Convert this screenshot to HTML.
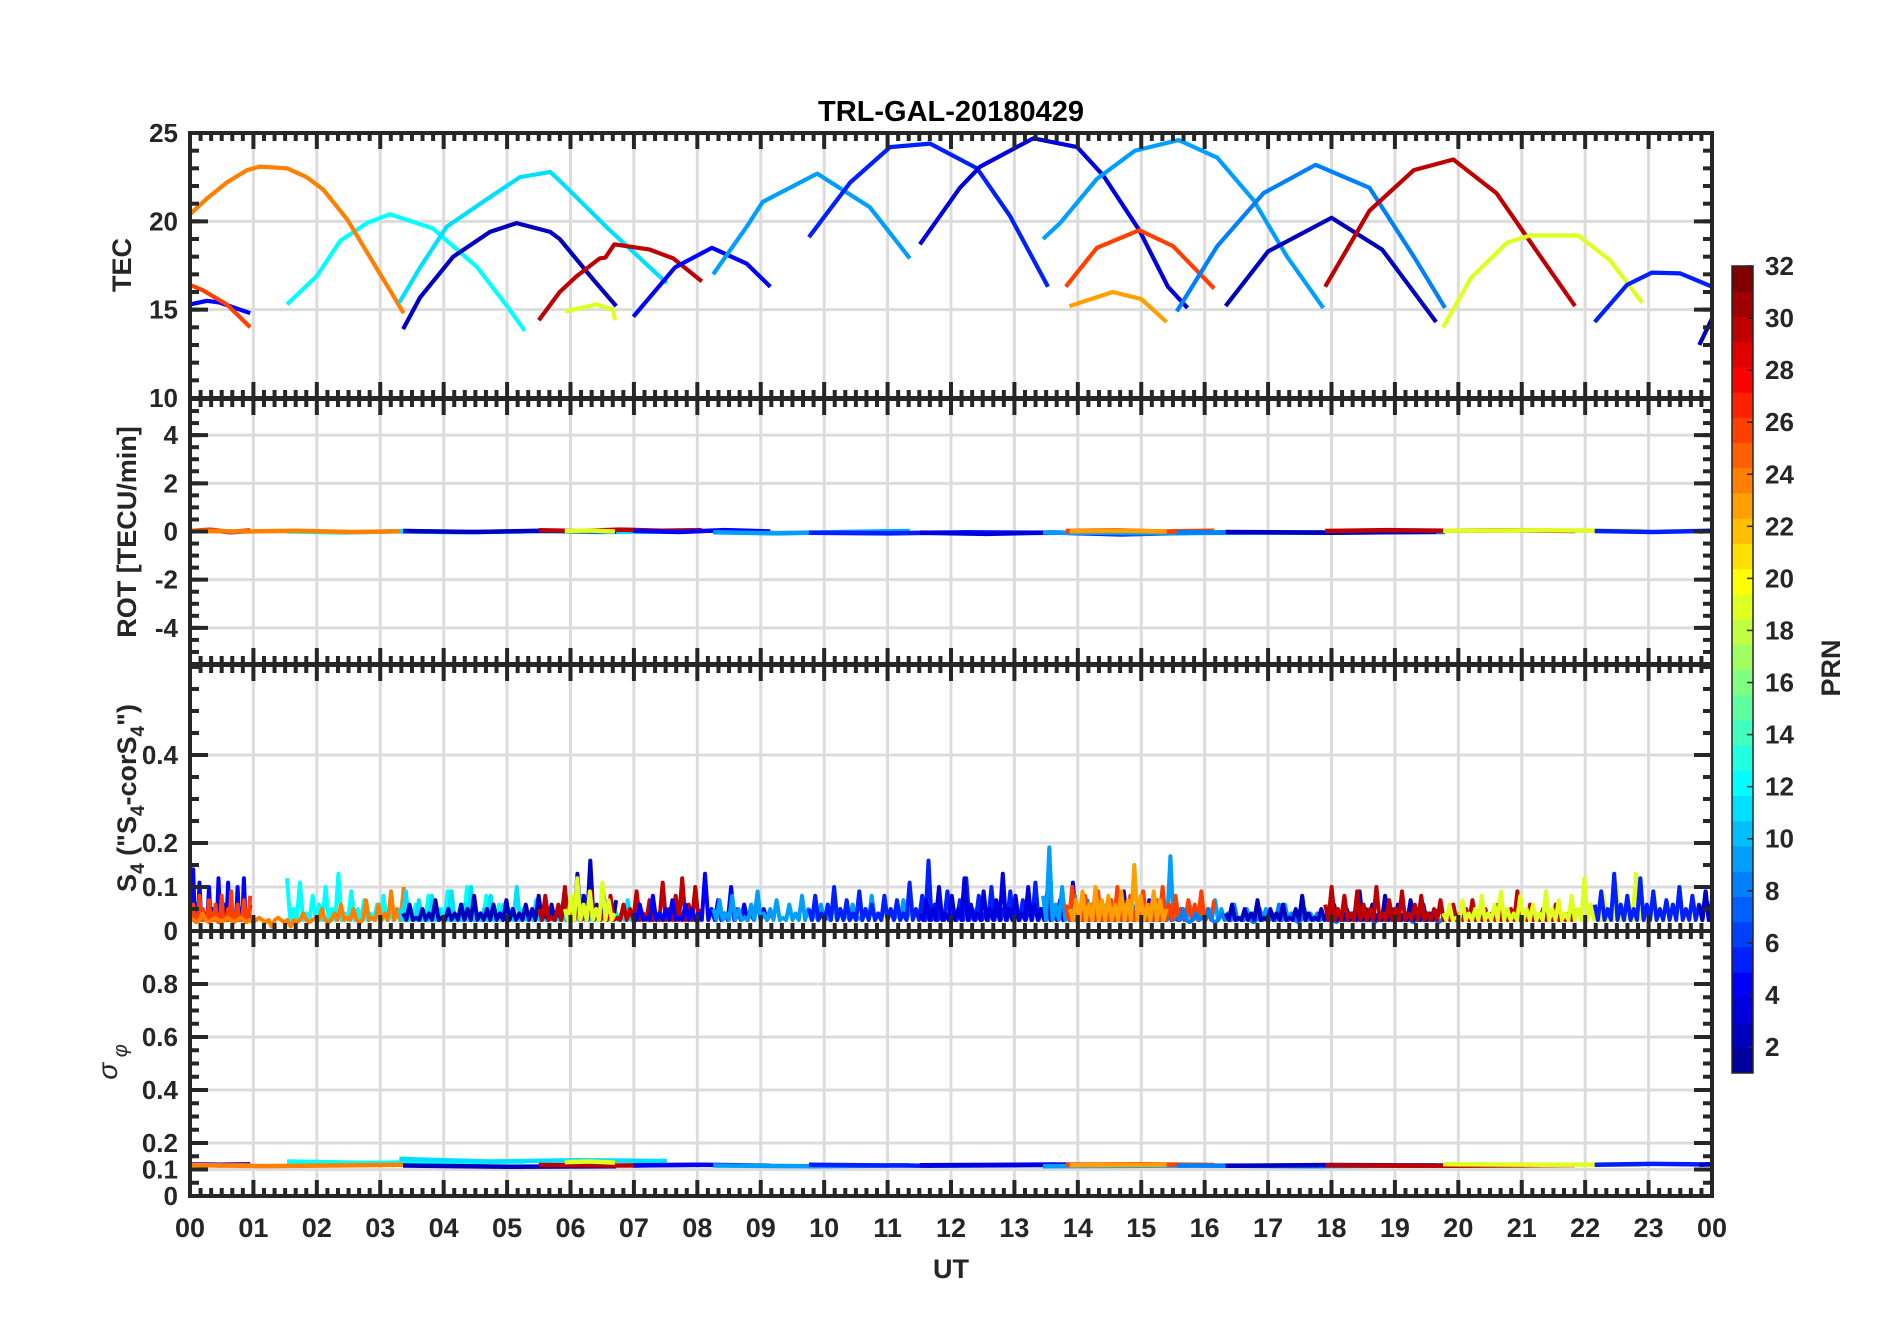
<!DOCTYPE html>
<html><head><meta charset="utf-8"><title>TRL-GAL-20180429</title>
<style>html,body{margin:0;padding:0;background:#fff;}svg{display:block;font-family:"Liberation Sans",sans-serif;}</style>
</head><body>
<svg id="chart" width="1902" height="1330" viewBox="0 0 1902 1330">
<g id="grid"></g>
<g id="data"></g>
<g id="axes"></g>
<g id="cbar"></g>
<text x="951" y="121" text-anchor="middle" font-size="29" font-weight="bold" fill="#000">TRL-GAL-20180429</text>
<text x="951" y="1278" text-anchor="middle" font-size="27" font-weight="bold" fill="#262626">UT</text>
<text transform="translate(131,265) rotate(-90)" text-anchor="middle" font-size="27" font-weight="bold" fill="#262626">TEC</text>
<text transform="translate(136,532) rotate(-90)" text-anchor="middle" font-size="27" font-weight="bold" fill="#262626">ROT [TECU/min]</text>
<text transform="translate(136,798) rotate(-90)" text-anchor="middle" font-size="27" font-weight="bold" fill="#262626">S<tspan font-size="19" dy="8">4</tspan><tspan dy="-8"> ("S</tspan><tspan font-size="19" dy="8">4</tspan><tspan dy="-8">-corS</tspan><tspan font-size="19" dy="8">4</tspan><tspan dy="-8">")</tspan></text>
<text transform="translate(117,1062) rotate(-90)" text-anchor="middle" font-size="28" font-style="italic" fill="#262626">σ<tspan font-size="20" dy="10"> φ</tspan></text>
<text transform="translate(1840,668) rotate(-90)" text-anchor="middle" font-size="27" font-weight="bold" fill="#262626">PRN</text>
</svg>
<script>
// ---- data ----
const hourLabels = ["00","01","02","03","04","05","06","07","08","09","10","11","12","13","14","15","16","17","18","19","20","21","22","23","00"];
const tecTicks = [10,15,20,25];
const rotTicks = [-4,-2,0,2,4];
const s4Ticks = [0,0.1,0.2,0.4];
const sigTicks = [0,0.1,0.2,0.4,0.6,0.8];
const cbarTicks = [2,4,6,8,10,12,14,16,18,20,22,24,26,28,30,32];
const s4Base = 0.025;

const arcPrn = [4,26,12,24,11,2,30,19,4,9,5,3,9,26,23,8,2,30,19,5,2];
const arcTec = [
 [[0,15.3],[0.27,15.5],[0.47,15.4],[0.95,14.8]],
 [[0,16.4],[0.2,16.1],[0.58,15.3],[0.95,14.0]],
 [[1.53,15.3],[2.0,16.9],[2.37,18.9],[2.79,19.9],[3.15,20.4],[3.83,19.6],[4.53,17.4],[5.0,15.2],[5.28,13.8]],
 [[0,20.4],[0.27,21.3],[0.58,22.2],[0.9,22.9],[1.1,23.1],[1.53,23.0],[1.84,22.5],[2.1,21.8],[2.48,20.1],[2.95,17.3],[3.37,14.8]],
 [[3.3,15.4],[3.63,17.4],[4.05,19.7],[4.62,21.1],[5.2,22.5],[5.68,22.8],[5.83,22.3],[6.62,19.5],[7.52,16.5]],
 [[3.36,13.9],[3.63,15.7],[4.15,18.0],[4.73,19.4],[5.15,19.9],[5.68,19.4],[5.83,19.0],[6.36,16.7],[6.72,15.2]],
 [[5.5,14.4],[5.83,16.0],[6.1,16.9],[6.46,17.9],[6.55,17.95],[6.69,18.7],[7.25,18.4],[7.62,17.9],[8.07,16.6]],
 [[5.91,14.9],[6.41,15.3],[6.67,15.0],[6.7,14.4]],
 [[6.99,14.6],[7.65,17.4],[8.23,18.5],[8.78,17.6],[9.15,16.3]],
 [[8.25,17.0],[8.78,19.7],[9.03,21.1],[9.89,22.7],[10.72,20.8],[11.35,17.9]],
 [[9.76,19.1],[10.41,22.2],[11.04,24.2],[11.67,24.4],[12.41,23.0],[12.93,20.3],[13.53,16.3]],
 [[11.51,18.7],[12.14,21.9],[12.46,23.1],[13.3,24.7],[13.99,24.2],[14.4,22.6],[14.97,19.5],[15.42,16.3],[15.73,15.1]],
 [[13.45,19.0],[13.72,19.9],[14.3,22.4],[14.9,24.0],[15.59,24.6],[16.2,23.6],[16.77,21.2],[17.3,18.0],[17.87,15.1]],
 [[13.81,16.3],[14.3,18.5],[14.97,19.5],[15.5,18.6],[16.15,16.2]],
 [[13.87,15.2],[14.55,16.0],[15.0,15.6],[15.4,14.3]],
 [[15.56,14.9],[16.2,18.6],[16.93,21.6],[17.75,23.2],[18.6,21.9],[19.3,18.0],[19.79,15.1]],
 [[16.33,15.2],[17.0,18.3],[18.0,20.2],[18.8,18.4],[19.65,14.3]],
 [[17.9,16.3],[18.6,20.6],[19.3,22.9],[19.92,23.5],[20.6,21.6],[21.2,18.5],[21.84,15.2]],
 [[19.76,14.0],[20.2,16.8],[20.77,18.8],[21.13,19.2],[21.89,19.2],[22.39,17.8],[22.9,15.4]],
 [[22.15,14.3],[22.66,16.4],[23.05,17.1],[23.5,17.05],[24,16.3]],
 [[23.8,13.0],[24,14.5]]
];
const arcS4 = [
 [0.08,0.14,0.06,0.11,0.05,0.04,0.1,0.05,0.03,0.12,0.04,0.06,0.11,0.05,0.04,0.1,0.05,0.12,0.04,0.06],
 [0.04,0.06,0.03,0.08,0.05,0.03,0.07,0.04,0.06,0.02,0.08,0.03,0.05,0.09,0.04,0.06,0.03,0.07,0.05,0.08],
 [0.12,0.05,0.11,0.04,0.08,0.06,0.1,0.05,0.13,0.04,0.09,0.05,0.07,0.04,0.06,0.08,0.04,0.05,0.07,0.03,0.06,0.05,0.08,0.04,0.05,0.09,0.04,0.06,0.1,0.05,0.04,0.08,0.05,0.06,0.04,0.05,0.03,0.04],
 [0.03,0.02,0.04,0.02,0.03,0.02,0.03,0.02,0.03,0.02,0.02,0.03,0.02,0.01,0.03,0.02,0.01,0.02,0.04,0.02,0.03,0.05,0.02,0.04,0.06,0.03,0.05,0.02,0.07,0.03,0.06,0.04,0.09,0.05,0.1],
 [0.05,0.09,0.04,0.07,0.03,0.08,0.05,0.04,0.09,0.03,0.06,0.1,0.04,0.05,0.08,0.03,0.06,0.04,0.1,0.05,0.03,0.07,0.04,0.05,0.03,0.06,0.04,0.05,0.08,0.03,0.04,0.06,0.03,0.05,0.04,0.07,0.03,0.05,0.04,0.06,0.03,0.05],
 [0.04,0.06,0.03,0.05,0.04,0.07,0.03,0.05,0.04,0.06,0.05,0.08,0.04,0.05,0.06,0.04,0.07,0.05,0.04,0.06,0.05,0.08,0.04,0.06,0.05,0.09,0.07,0.13,0.08,0.16,0.06,0.09,0.05,0.07],
 [0.05,0.08,0.03,0.06,0.1,0.04,0.07,0.03,0.09,0.05,0.04,0.08,0.03,0.06,0.05,0.09,0.04,0.07,0.03,0.11,0.05,0.08,0.12,0.06,0.1,0.05],
 [0.05,0.08,0.12,0.06,0.09,0.05,0.11,0.07,0.04],
 [0.04,0.06,0.03,0.08,0.04,0.05,0.07,0.03,0.06,0.05,0.04,0.13,0.05,0.07,0.04,0.1,0.05,0.06,0.04,0.08,0.05,0.04],
 [0.05,0.07,0.04,0.08,0.05,0.03,0.06,0.09,0.04,0.05,0.07,0.03,0.06,0.04,0.08,0.05,0.04,0.06,0.03,0.07,0.05,0.04,0.06,0.03,0.05,0.08,0.04,0.06,0.05,0.04,0.07,0.05],
 [0.05,0.08,0.04,0.06,0.1,0.05,0.07,0.04,0.09,0.05,0.06,0.04,0.08,0.05,0.07,0.04,0.11,0.05,0.08,0.16,0.06,0.05,0.09,0.04,0.07,0.12,0.05,0.08,0.04,0.1,0.06,0.05,0.09,0.04,0.07,0.05,0.11,0.05,0.06],
 [0.04,0.07,0.05,0.1,0.04,0.08,0.05,0.12,0.06,0.04,0.09,0.05,0.07,0.13,0.05,0.08,0.04,0.1,0.06,0.05,0.09,0.04,0.07,0.05,0.11,0.05,0.06,0.04,0.08,0.05,0.07,0.04,0.09,0.05,0.06,0.04,0.07,0.05,0.04,0.06,0.03,0.05,0.04],
 [0.08,0.19,0.06,0.1,0.05,0.08,0.04,0.07,0.05,0.04,0.06,0.03,0.05,0.04,0.06,0.03,0.05,0.04,0.07,0.03,0.17,0.05,0.04,0.06,0.03,0.05,0.04,0.07,0.05,0.04,0.06,0.03,0.05,0.04,0.03,0.05,0.04,0.03,0.06,0.04,0.03,0.05,0.04,0.03,0.04],
 [0.06,0.1,0.05,0.08,0.06,0.09,0.05,0.07,0.1,0.06,0.08,0.05,0.09,0.06,0.07,0.1,0.06,0.08,0.05,0.07,0.06,0.09,0.05,0.07],
 [0.05,0.07,0.09,0.06,0.1,0.07,0.08,0.06,0.09,0.07,0.15,0.08,0.06,0.09,0.07,0.05],
 [0.03,0.05,0.02,0.04,0.03,0.05,0.02,0.04,0.03,0.06,0.03,0.04,0.02,0.05,0.03,0.04,0.06,0.03,0.04,0.02,0.05,0.03,0.04,0.03,0.05,0.02,0.04,0.03,0.05,0.03,0.04,0.02,0.04,0.03,0.05,0.03,0.04,0.02,0.03,0.04,0.03,0.02,0.03],
 [0.04,0.06,0.03,0.05,0.04,0.07,0.03,0.05,0.04,0.06,0.03,0.05,0.08,0.04,0.03,0.05,0.04,0.06,0.03,0.05,0.04,0.09,0.05,0.06,0.04,0.08,0.05,0.06,0.04,0.07,0.05,0.06,0.04,0.05],
 [0.06,0.1,0.05,0.08,0.04,0.09,0.06,0.05,0.1,0.04,0.07,0.05,0.09,0.04,0.06,0.08,0.04,0.05,0.07,0.03,0.06,0.04,0.05,0.07,0.03,0.05,0.04,0.06,0.03,0.05,0.09,0.04,0.06,0.03,0.05,0.04,0.06,0.03,0.04,0.05],
 [0.04,0.06,0.03,0.07,0.04,0.05,0.08,0.04,0.06,0.09,0.05,0.04,0.08,0.05,0.06,0.04,0.09,0.05,0.07,0.04,0.08,0.05,0.12,0.06,0.04,0.08,0.05,0.1,0.04,0.06,0.13,0.05],
 [0.06,0.09,0.05,0.13,0.06,0.08,0.05,0.12,0.06,0.09,0.05,0.07,0.06,0.1,0.05,0.08,0.06,0.09,0.07],
 [0.06,0.09,0.07]
];
const arcRot = [
 [0,0.05,-0.03,0.02],[0.02,0.08,-0.02,0.05],[0,-0.04,0.02,-0.02,0],[0.02,0,0.03,-0.02,0.01],
 [0,-0.03,0.02,-0.02,0],[0.02,-0.02,0.03,0],[0.05,0.02,0.08,0.03,0.06],[0.02,0.04,0],
 [0.03,-0.02,0.06,0],[-0.03,-0.08,-0.02,0.02],[-0.05,-0.08,-0.03,-0.06],[-0.05,-0.1,-0.04,-0.12,-0.06],
 [-0.04,-0.08,-0.05,-0.03],[0.02,0.05,0,0.03],[0.01,0.03,0],[-0.03,-0.05,-0.02],
 [-0.02,-0.05,-0.01],[0.02,0.06,0.03,0.05,0.02],[0.03,0.05,0.02],[0.02,-0.02,0.03],[0,0.02]
];
const arcSig = [
 [0.12,0.118,0.12],[0.118,0.115,0.117],[0.13,0.125,0.128,0.13],[0.117,0.113,0.115,0.118],
 [0.14,0.13,0.135,0.132],[0.115,0.11,0.112],[0.117,0.115,0.118],[0.128,0.13,0.126],
 [0.115,0.118,0.114],[0.115,0.112,0.116],[0.118,0.114,0.117],[0.116,0.119,0.115],
 [0.112,0.115,0.113],[0.118,0.12,0.117],[0.116,0.118],[0.115,0.113,0.116],
 [0.114,0.117,0.115],[0.116,0.114,0.117],[0.12,0.118,0.119],[0.118,0.121,0.119],[0.118,0.12]
];

// ---- layout ----
const X0 = 190, X1 = 1712;
const panels = {
 tec: {top:133, bot:398, min:10, max:25},
 rot: {top:399, bot:664, min:-5.5, max:5.5},
 s4:  {top:665, bot:931, min:0, max:0.6045},
 sig: {top:931, bot:1196, min:0, max:1}
};
const NS = "http://www.w3.org/2000/svg";
function xs(h){ return X0 + h/24*(X1-X0); }
function ys(p,v){ const P=panels[p]; return P.bot - (v-P.min)/(P.max-P.min)*(P.bot-P.top); }
function mk(tag, attrs, parent){ const e=document.createElementNS(NS,tag); for(const k in attrs) e.setAttribute(k,attrs[k]); parent.appendChild(e); return e; }

function jet(k){ // MATLAB jet(32), k = 1..32
 const n=8, u=[];
 for(let i=1;i<=n;i++) u.push(i/n);
 for(let i=0;i<n-1;i++) u.push(1);
 for(let i=n;i>=1;i--) u.push(i/n);
 const get=(i)=> (i>=1 && i<=u.length)? u[i-1] : 0;
 const r=get(k-12), g=get(k-4), b=get(k+4);
 const h=v=>Math.round(v*255).toString(16).padStart(2,'0');
 return '#'+h(r)+h(g)+h(b);
}

const grid=document.getElementById('grid'), axes=document.getElementById('axes'), data=document.getElementById('data'), cbar=document.getElementById('cbar');
const AX='#262626';
const panelTicks={tec:tecTicks, rot:rotTicks, s4:s4Ticks, sig:sigTicks};
const minorStep={tec:1, rot:0.5, s4:0.05, sig:0.05};

for(const p in panels){
 const P=panels[p];
 for(let h=1;h<24;h++){
  const gl=mk('line',{x1:xs(h),x2:xs(h),y1:P.top,y2:P.bot,stroke:'#dcdcdc','stroke-width':3},grid);
  
  
 }
 panelTicks[p].forEach(v=>{
  if(v<=P.min+1e-9||v>=P.max-1e-9) return;
  const gl=mk('line',{x1:X0,x2:X1,y1:ys(p,v),y2:ys(p,v),stroke:'#dcdcdc','stroke-width':3},grid);
  
  
 });
 const box=mk('rect',{x:X0,y:P.top,width:X1-X0,height:P.bot-P.top,fill:'none',stroke:AX,'stroke-width':4},axes);
 
 
 for(let i=0;i<=144;i++){
  const x=xs(i/6), L=(i%6===0)?16:8;
  mk('line',{x1:x,x2:x,y1:P.bot,y2:P.bot-L,stroke:AX,'stroke-width':4},axes);
  mk('line',{x1:x,x2:x,y1:P.top,y2:P.top+L,stroke:AX,'stroke-width':4},axes);
 }
 const st=minorStep[p];
 for(let v=P.min; v<=P.max+1e-9; v+=st){
  const vv=Math.round(v/st)*st; const y=ys(p,vv);
  if(y<P.top-1) continue;
  mk('line',{x1:X0,x2:X0+9,y1:y,y2:y,stroke:AX,'stroke-width':4},axes);
  mk('line',{x1:X1,x2:X1-9,y1:y,y2:y,stroke:AX,'stroke-width':4},axes);
 }
 panelTicks[p].forEach(v=>{
  const y=ys(p,v);
  mk('line',{x1:X0,x2:X0+18,y1:y,y2:y,stroke:AX,'stroke-width':4},axes);
  mk('line',{x1:X1,x2:X1-18,y1:y,y2:y,stroke:AX,'stroke-width':4},axes);
  const t=mk('text',{x:178,y:y+9,'text-anchor':'end','font-size':26,'font-weight':'bold',fill:AX},axes);
  t.textContent=String(v);
  
  
 });
}
hourLabels.forEach((lab,i)=>{
 const t=mk('text',{x:xs(i),y:1237,'text-anchor':'middle','font-size':27,'font-weight':'bold',fill:AX},axes);
 t.textContent=lab;
 
 
});

const defs=mk('defs',{},document.getElementById('chart'));
for(const p in panels){
 const P=panels[p];
 const cp=mk('clipPath',{id:'clip-'+p},defs);
 mk('rect',{x:X0,y:P.top,width:X1-X0,height:P.bot-P.top},cp);
}

function series(p, t0, t1, vals){
 const n=vals.length; const pts=[];
 vals.forEach((v,i)=>{ const h=n>1? t0+(t1-t0)*i/(n-1) : t0; pts.push(xs(h).toFixed(1)+','+ys(p,v).toFixed(1)); });
 return pts.join(' ');
}
function spikes(t0, t1, vals){
 // each reading is a spike rising from the S4 baseline
 const n=vals.length; const pts=[]; const dt=(t1-t0)/Math.max(1,n-1);
 vals.forEach((v,i)=>{
  const h=t0+dt*i;
  pts.push(xs(h).toFixed(1)+','+ys('s4',v).toFixed(1));
  if(i<n-1) pts.push(xs(h+dt/2).toFixed(1)+','+ys('s4',s4Base).toFixed(1));
 });
 return pts.join(' ');
}

arcPrn.forEach((prn,a)=>{
 const col=jet(prn);
 const tec=arcTec[a];
 const t0=tec[0][0], t1=tec[tec.length-1][0];
 const l1=mk('polyline',{points:tec.map(d=>xs(d[0]).toFixed(1)+','+ys('tec',d[1]).toFixed(1)).join(' '),fill:'none',stroke:col,'stroke-width':4.2,'stroke-linejoin':'round','clip-path':'url(#clip-tec)'},data);
 
 
 const l2=mk('polyline',{points:series('rot',t0,t1,arcRot[a]),fill:'none',stroke:col,'stroke-width':4.5,'clip-path':'url(#clip-rot)'},data);
 
 
 const l3=mk('polyline',{points:spikes(t0,t1,arcS4[a]),fill:'none',stroke:col,'stroke-width':4,'stroke-linejoin':'round','clip-path':'url(#clip-s4)'},data);
 
 
 const l4=mk('polyline',{points:series('sig',t0,t1,arcSig[a]),fill:'none',stroke:col,'stroke-width':4.5,'clip-path':'url(#clip-sig)'},data);
 
 
});

const CB={x:1732,w:21,top:266,bot:1073,min:1,max:32};
const bandH=(CB.bot-CB.top)/32;
for(let k=1;k<=32;k++){
 const r=mk('rect',{x:CB.x,y:CB.bot-k*bandH,width:CB.w,height:bandH+0.5,fill:jet(k)},cbar);
 
 
}
mk('rect',{x:CB.x,y:CB.top,width:CB.w,height:CB.bot-CB.top,fill:'none',stroke:AX,'stroke-width':1.5},cbar);
function cy(v){ return CB.top+(CB.max-v)/(CB.max-CB.min)*(CB.bot-CB.top); }
cbarTicks.forEach(v=>{
 const y=cy(v);
 mk('line',{x1:CB.x+CB.w,x2:CB.x+CB.w-6,y1:y,y2:y,stroke:AX,'stroke-width':1.5},cbar);
 const t=mk('text',{x:1765,y:y+9,'font-size':26,'font-weight':'bold',fill:AX},cbar);
 t.textContent=String(v);
 
 
});
</script>
</body></html>
